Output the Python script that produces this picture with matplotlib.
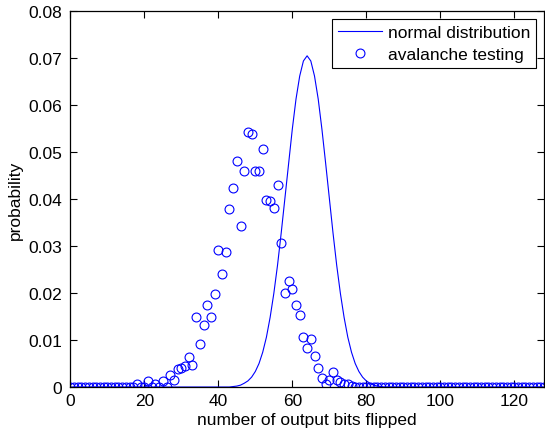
import numpy as np
import matplotlib
matplotlib.use("Agg")
import matplotlib.pyplot as plt

plt.rcParams['font.family'] = ['Liberation Sans', 'DejaVu Sans']

# avalanche test: measured probability for 0..128 flipped output bits
bits = list(range(0, 129))
avalanche = [0.0] * 18 + [
    0.0006, 0.0, 0.0, 0.0012, 0.0, 0.0006, 0.0, 0.0012, 0.0, 0.0026,   # 18-27
    0.0015, 0.0039, 0.0041, 0.0045, 0.0063, 0.0046, 0.0148, 0.0092,    # 28-35
    0.0133, 0.0174, 0.0148, 0.0199, 0.0291, 0.0241, 0.0287, 0.0379,    # 36-43
    0.0424, 0.0481, 0.0343, 0.0460, 0.0543, 0.0538, 0.0460, 0.0460,    # 44-51
    0.0507, 0.0399, 0.0396, 0.0380, 0.0429, 0.0307, 0.0201, 0.0226,    # 52-59
    0.0209, 0.0174, 0.0153, 0.0107, 0.0082, 0.0103, 0.0066, 0.0041,    # 60-67
    0.0020, 0.0006, 0.0016, 0.0031, 0.0015, 0.0010, 0.0006, 0.0006,    # 68-75
    0.0003,                                                            # 76
] + [0.0] * 52

# normal curve values (centred on 64)
normal = [0.0] * 44 + [
    0.0001, 0.0002, 0.0004, 0.0008, 0.0013, 0.0021, 0.0033, 0.0050,    # 44-51
    0.0074, 0.0106, 0.0148, 0.0199, 0.0259, 0.0328, 0.0402, 0.0477,    # 52-59
    0.0549, 0.0613, 0.0662, 0.0694, 0.0705, 0.0694, 0.0662, 0.0613,    # 60-67
    0.0549, 0.0477, 0.0402, 0.0328, 0.0259, 0.0199, 0.0148, 0.0106,    # 68-75
    0.0074, 0.0050, 0.0033, 0.0021, 0.0013, 0.0008, 0.0004, 0.0002,    # 76-83
    0.0001,                                                            # 84
] + [0.0] * 44

fig = plt.figure(figsize=(5.45, 4.35), dpi=100)
ax = fig.add_axes([0.129, 0.108, 0.869, 0.864])

ax.plot(bits, normal, color='#0000ff', lw=0.8, label='normal distribution')
ax.plot(bits, avalanche, 'o', mfc='none', mec='#0000ff', ms=6.4, mew=0.8,
        label='avalanche testing')

ax.set_xlim(0, 128)
ax.set_ylim(0, 0.08)
ax.set_xticks(range(0, 121, 20))
ax.set_yticks([0, 0.01, 0.02, 0.03, 0.04, 0.05, 0.06, 0.07, 0.08])
ax.set_yticklabels(['0', '0.01', '0.02', '0.03', '0.04', '0.05', '0.06', '0.07', '0.08'])
ax.tick_params(direction='in', length=5, width=0.8, labelsize=12.5,
               top=True, right=True)
ax.tick_params(axis='y', pad=6)
ax.tick_params(axis='x', pad=4)
for s in ax.spines.values():
    s.set_linewidth(0.9)

ax.set_xlabel('number of output bits flipped', fontsize=12.5, labelpad=3)
ax.set_ylabel('probability', fontsize=12.5, labelpad=4)

leg = ax.legend(loc='upper right', fontsize=12.5, fancybox=False,
                edgecolor='black', framealpha=1, borderpad=0.35,
                handlelength=2.5, handletextpad=0.35, labelspacing=0.4,
                borderaxespad=0.45)
leg.get_frame().set_linewidth(0.8)

fig.savefig('out.png', dpi=100)
